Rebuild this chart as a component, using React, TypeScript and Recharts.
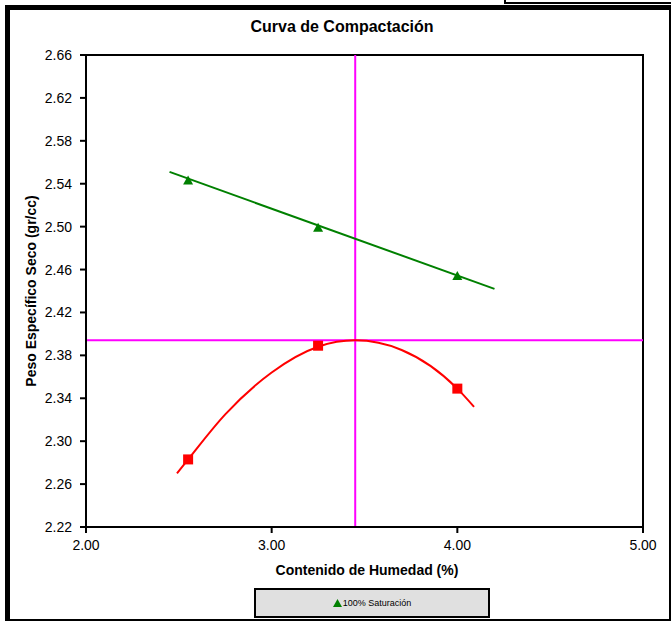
import React from "react";
import {
  ComposedChart,
  Line,
  Scatter,
  XAxis,
  YAxis,
  ReferenceLine,
  ReferenceArea,
} from "recharts";

// ---- data ----
const moisture = [2.55, 3.25, 4.0];
const dryDensity = [2.283, 2.389, 2.349];
const saturation100 = [2.543, 2.499, 2.454];

const satLineX = [2.45, 4.2];
const satLineY = [2.551, 2.442];

const fitCurveX = [2.49, 2.55, 2.75, 3.0, 3.25, 3.45, 3.7, 4.0, 4.09];
const fitCurveY = [2.27, 2.283, 2.325, 2.364, 2.388, 2.394, 2.385, 2.349, 2.332];

const optimumMoisture = 3.45;
const maxDryDensity = 2.394;

const xTicks = [2, 3, 4, 5];
const yTicks = [2.22, 2.26, 2.3, 2.34, 2.38, 2.42, 2.46, 2.5, 2.54, 2.58, 2.62, 2.66];

const title = "Curva de Compactación";
const xTitle = "Contenido de Humedad (%)";
const yTitle = "Peso Específico Seco (gr/cc)";
const legendLabel = "100% Saturación";

// tables for the library
const zip = (xs: number[], ys: number[]) => xs.map((x, i) => ({ x, y: ys[i] }));
const densityPts = zip(moisture, dryDensity);
const satPts = zip(moisture, saturation100);
const satLine = zip(satLineX, satLineY);
const fitCurve = zip(fitCurveX, fitCurveY);

const FONT = "'Liberation Sans', Arial, sans-serif";

const Triangle = (p: any) => {
  const { cx, cy } = p;
  if (cx == null || cy == null) return null;
  return (
    <polygon
      points={`${cx},${cy - 5} ${cx + 5},${cy + 4} ${cx - 5},${cy + 4}`}
      fill="#008000"
    />
  );
};

const Square = (p: any) => {
  const { cx, cy } = p;
  if (cx == null || cy == null) return null;
  return <rect x={cx - 5} y={cy - 5} width={10} height={10} fill="#ff0000" />;
};

export default function App() {
  return (
    <div
      style={{
        position: "absolute",
        left: 0,
        top: 0,
        width: 671,
        height: 621,
        background: "#fff",
        fontFamily: FONT,
        overflow: "hidden",
      }}
    >
      {/* outer chart frame */}
      <div
        style={{
          position: "absolute",
          left: 5,
          top: 5,
          width: 666,
          height: 616,
          borderLeft: "5px solid #000",
          borderTop: "5px solid #000",
          borderRight: "2px solid #000",
          borderBottom: "2px solid #000",
          boxSizing: "border-box",
        }}
      />
      {/* neighbouring frame edge at top right */}
      <div
        style={{
          position: "absolute",
          left: 504,
          top: 0,
          width: 167,
          height: 4,
          borderLeft: "2px solid #000",
          borderBottom: "2px solid #000",
          boxSizing: "border-box",
        }}
      />
      <div style={{ position: "absolute", left: 0, top: 0 }}>
        <ComposedChart
          width={671}
          height={621}
          margin={{ top: 55, right: 28, bottom: 64, left: 26 }}
        >
          <XAxis
            type="number"
            dataKey="x"
            domain={[2, 5]}
            ticks={xTicks}
            allowDataOverflow
            tickFormatter={(v: number) => v.toFixed(2)}
            height={30}
            axisLine={{ stroke: "#000", strokeWidth: 2 }}
            tickLine={{ stroke: "#000", strokeWidth: 2 }}
            tickSize={6}
            tickMargin={7}
            tick={{ fill: "#000", fontSize: 14, fontFamily: FONT }}
          />
          <YAxis
            type="number"
            dataKey="y"
            domain={[2.22, 2.66]}
            ticks={yTicks}
            allowDataOverflow
            tickFormatter={(v: number) => v.toFixed(2)}
            width={60}
            axisLine={{ stroke: "#000", strokeWidth: 2 }}
            tickLine={{ stroke: "#000", strokeWidth: 2 }}
            tickSize={6}
            tickMargin={8}
            tick={{ fill: "#000", fontSize: 14, fontFamily: FONT }}
          />
          <ReferenceArea
            x1={2}
            x2={5}
            y1={2.22}
            y2={2.66}
            fill="none"
            fillOpacity={0}
            stroke="#000"
            strokeWidth={2}
          />
          <ReferenceLine x={optimumMoisture} stroke="#ff00ff" strokeWidth={2} />
          <ReferenceLine y={maxDryDensity} stroke="#ff00ff" strokeWidth={2} />
          <Line
            data={satLine}
            dataKey="y"
            type="linear"
            stroke="#008000"
            strokeWidth={2}
            dot={false}
            activeDot={false}
            isAnimationActive={false}
          />
          <Line
            data={fitCurve}
            dataKey="y"
            type="monotone"
            stroke="#ff0000"
            strokeWidth={2}
            dot={false}
            activeDot={false}
            isAnimationActive={false}
          />
          <Scatter data={satPts} shape={Triangle} isAnimationActive={false} />
          <Scatter data={densityPts} shape={Square} isAnimationActive={false} />
        </ComposedChart>
      </div>

      {/* titles */}
      <div
        style={{
          position: "absolute",
          left: 0,
          width: 684,
          top: 17,
          textAlign: "center",
          fontSize: 16,
          fontWeight: "bold",
          color: "#000",
          lineHeight: "20px",
        }}
      >
        {title}
      </div>
      <div
        style={{
          position: "absolute",
          left: 167,
          width: 400,
          top: 561,
          textAlign: "center",
          fontSize: 14,
          fontWeight: "bold",
          color: "#000",
          lineHeight: "18px",
        }}
      >
        {xTitle}
      </div>
      <div
        style={{
          position: "absolute",
          left: 31 - 150,
          top: 291 - 9,
          width: 300,
          textAlign: "center",
          fontSize: 14,
          fontWeight: "bold",
          color: "#000",
          lineHeight: "18px",
          transform: "rotate(-90deg)",
          transformOrigin: "50% 50%",
        }}
      >
        {yTitle}
      </div>

      {/* legend */}
      <div
        style={{
          position: "absolute",
          left: 254,
          top: 588,
          width: 236,
          height: 30,
          boxSizing: "border-box",
          border: "2px solid #000",
          background: "#e0e0e0",
          display: "flex",
          alignItems: "center",
          justifyContent: "center",
          fontSize: 9,
          color: "#000",
        }}
      >
        <svg width={9} height={8} style={{ marginRight: 1 }}>
          <polygon points="4.5,0 9,8 0,8" fill="#008000" />
        </svg>
        <span>{legendLabel}</span>
      </div>
    </div>
  );
}
